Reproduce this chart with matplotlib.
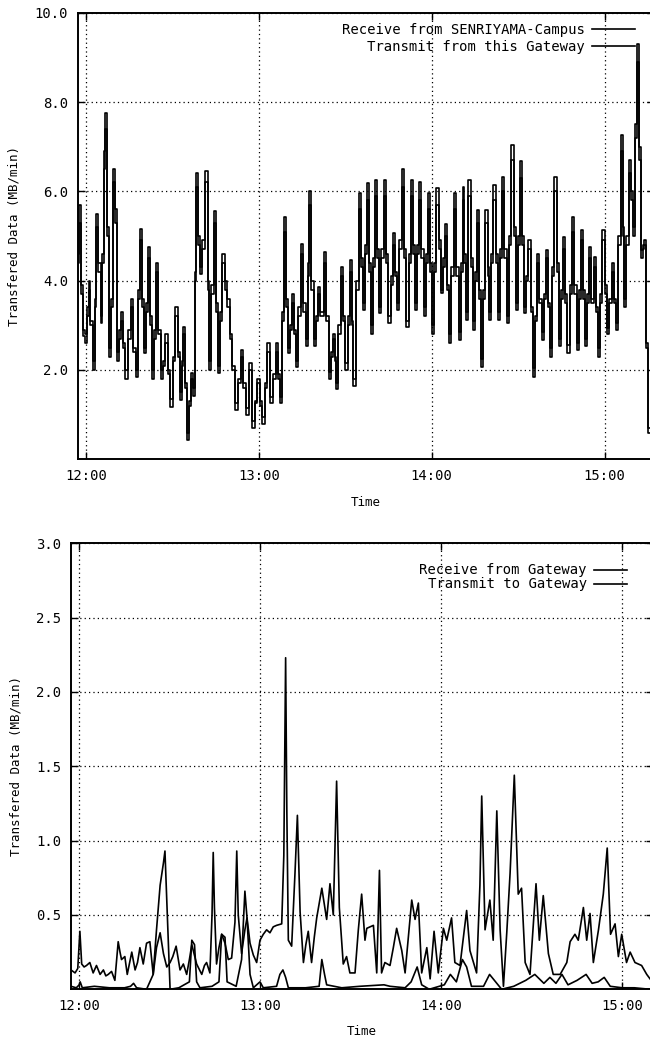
import matplotlib
matplotlib.use("Agg")
import matplotlib.pyplot as plt

# time axis in minutes after 12:00
tick_pos = [0, 60, 120, 180]
tick_lab = ["12:00", "13:00", "14:00", "15:00"]

# ---- upper panel: gateway traffic (MB/min) ----
t_top = [-2.9, -2.3, -1.5, -0.9, 0.0, 0.6, 1.2, 1.9, 2.6, 3.3,
         3.9, 4.7, 5.4, 6.0, 6.6, 6.9, 7.6, 8.3, 9.1, 9.8,
         10.5, 11.2, 11.8, 12.4, 13.2, 14.1, 15.0, 15.9, 16.8, 17.6,
         18.3, 19.0, 19.8, 20.5, 21.2, 22.0, 22.7, 23.4, 24.1, 24.8,
         25.5, 26.3, 27.1, 28.0, 28.9, 29.7, 30.6, 31.5, 32.2, 32.9,
         33.5, 34.0, 34.8, 35.5, 36.1, 36.7, 37.5, 38.0, 38.4, 39.1,
         39.8, 40.8, 41.9, 42.5, 43.1, 44.0, 44.8, 45.4, 46.0, 46.9,
         47.7, 48.6, 49.4, 50.3, 51.2, 52.3, 53.2, 54.1, 55.0, 55.8,
         57.0, 58.1, 59.0, 59.9, 60.8, 61.6, 62.5, 63.3, 64.5, 65.4,
         66.2, 67.0, 67.7, 68.4, 69.1, 69.7, 70.3, 71.0, 71.8, 72.5,
         73.2, 74.0, 74.9, 75.8, 76.6, 77.2, 77.8, 78.6, 79.5, 80.1,
         80.7, 81.9, 83.0, 83.9, 84.7, 85.4, 86.0, 86.6, 87.2, 88.0,
         88.8, 89.6, 90.5, 91.2, 91.9, 92.5, 93.1, 94.1, 95.1, 95.7,
         96.3, 97.1, 97.8, 98.5, 99.2, 99.9, 100.7, 101.4, 102.1, 102.9,
         103.8, 104.5, 105.3, 106.1, 106.9, 107.6, 108.4, 109.2, 110.0, 110.8,
         111.6, 112.3, 113.1, 113.8, 114.6, 115.3, 116.0, 116.8, 117.7, 118.4,
         119.1, 119.8, 120.6, 121.3, 122.0, 122.8, 123.5, 124.2, 124.9, 125.6,
         126.4, 127.2, 128.1, 129.0, 129.9, 130.4, 131.0, 131.6, 132.2, 133.1,
         133.9, 134.7, 135.3, 135.9, 136.6, 137.4, 138.2, 139.1, 139.7, 140.3,
         141.0, 141.8, 142.6, 143.5, 144.2, 144.9, 145.6, 146.4, 147.2, 148.1,
         148.8, 149.5, 150.2, 151.0, 151.7, 152.4, 153.1, 153.9, 154.7, 155.5,
         156.2, 157.0, 157.7, 158.5, 159.3, 160.2, 160.7, 161.3, 162.1, 163.0,
         163.8, 164.6, 165.3, 166.0, 166.7, 167.4, 168.3, 169.2, 169.9, 170.6,
         171.3, 172.1, 172.8, 173.6, 174.3, 175.0, 175.8, 176.7, 177.4, 178.2,
         178.9, 179.6, 180.4, 181.3, 182.0, 182.8, 183.5, 184.2, 185.1, 186.0,
         186.5, 187.1, 188.0, 188.9, 189.5, 190.2, 190.9, 191.7, 192.3, 192.9,
         193.5, 194.1, 194.8, 195.6, 196.3]

rx_campus = [4.6, 5.7, 3.9, 2.75, 2.6, 3.4, 4.0, 3.0, 2.0, 3.6,
             5.5, 4.4, 3.05, 4.6, 6.9, 7.75, 5.2, 2.3, 3.6, 6.5,
             5.6, 2.2, 2.9, 3.3, 2.5, 1.8, 2.9, 3.6, 2.4, 1.85,
             3.8, 5.15, 3.6, 2.38, 3.5, 4.76, 3.2, 1.8, 2.9, 4.4,
             2.9, 1.8, 2.2, 2.8, 1.9, 1.18, 2.3, 3.42, 2.4, 1.33,
             2.2, 2.97, 1.6, 0.43, 1.2, 1.93, 1.42, 4.2, 6.4, 5.0,
             4.16, 4.9, 6.45, 4.0, 2.0, 3.9, 5.55, 3.5, 1.93, 3.3,
             4.6, 4.0, 3.6, 2.8, 2.0, 1.1, 1.8, 2.45, 1.6, 1.0,
             2.15, 0.7, 1.3, 1.8, 1.2, 0.8, 1.7, 2.6, 1.25, 1.9,
             2.6, 1.8, 1.25, 3.3, 5.43, 3.6, 2.38, 3.0, 3.7, 2.8,
             2.07, 3.4, 4.83, 3.5, 2.53, 4.4, 6.0, 4.0, 2.53, 3.2,
             3.85, 3.2, 4.65, 3.2, 1.8, 2.4, 2.8, 2.2, 1.57, 3.0,
             4.31, 3.1, 2.0, 3.2, 4.46, 3.0, 1.64, 4.0, 5.96, 4.5,
             3.35, 4.8, 6.18, 4.4, 2.8, 4.5, 6.25, 4.7, 3.27, 4.7,
             6.25, 4.6, 3.05, 4.1, 5.06, 4.2, 3.35, 4.9, 6.5, 4.7,
             2.97, 4.6, 6.25, 4.8, 3.35, 4.8, 6.2, 4.7, 3.2, 4.6,
             5.96, 4.4, 2.8, 4.4, 6.07, 4.9, 3.72, 4.5, 5.28, 3.9,
             2.6, 4.3, 5.96, 4.3, 2.67, 4.4, 6.1, 4.6, 3.12, 6.25,
             4.5, 2.9, 4.2, 5.58, 3.8, 2.07, 3.8, 5.58, 4.3, 3.12,
             4.6, 6.14, 4.6, 3.12, 4.7, 6.33, 4.7, 3.05, 5.0, 7.04,
             5.2, 3.35, 5.0, 6.67, 5.0, 3.27, 4.1, 4.91, 3.4, 1.85,
             3.2, 4.6, 3.6, 2.67, 3.7, 4.68, 3.5, 2.3, 4.3, 6.33,
             4.4, 2.53, 3.8, 4.98, 3.7, 2.38, 3.9, 5.43, 3.9, 2.45,
             3.8, 5.13, 3.8, 2.53, 3.7, 4.76, 3.6, 4.53, 3.4, 2.3,
             3.7, 5.13, 3.9, 2.8, 3.6, 4.39, 3.6, 2.9, 5.0, 7.26,
             5.2, 3.42, 5.0, 6.7, 6.0, 5.2, 7.5, 9.3, 7.0, 4.68,
             4.8, 4.9, 2.5, 0.58, 0.5]

tx_gateway = [4.4, 5.3, 3.7, 2.9, 2.8, 3.2, 3.8, 3.1, 2.2, 3.4,
              5.2, 4.2, 3.2, 4.4, 6.5, 7.4, 5.0, 2.5, 3.4, 6.2,
              5.3, 2.4, 2.7, 3.1, 2.6, 2.0, 2.7, 3.4, 2.5, 2.0,
              3.6, 4.9, 3.4, 2.5, 3.3, 4.5, 3.0, 2.0, 2.7, 4.2,
              2.8, 2.0, 2.1, 2.6, 2.0, 1.35, 2.2, 3.2, 2.3, 1.5,
              2.1, 2.8, 1.7, 0.6, 1.3, 1.8, 1.6, 4.0, 6.1, 4.8,
              4.3, 4.7, 6.2, 3.8, 2.2, 3.7, 5.3, 3.3, 2.1, 3.1,
              4.4, 3.8, 3.4, 2.7, 2.1, 1.25, 1.7, 2.3, 1.7, 1.15,
              2.0, 0.85, 1.25, 1.7, 1.3, 0.95, 1.6, 2.4, 1.4, 1.8,
              2.4, 1.9, 1.4, 3.1, 5.1, 3.4, 2.5, 2.9, 3.5, 2.9,
              2.2, 3.2, 4.6, 3.3, 2.7, 4.1, 5.7, 3.8, 2.7, 3.1,
              3.7, 3.3, 4.4, 3.1, 1.95, 2.3, 2.7, 2.3, 1.7, 2.8,
              4.1, 3.2, 2.15, 3.0, 4.2, 3.1, 1.8, 3.8, 5.6, 4.3,
              3.5, 4.6, 5.8, 4.2, 3.0, 4.3, 5.9, 4.5, 3.4, 4.5,
              5.9, 4.4, 3.2, 3.9, 4.8, 4.1, 3.5, 4.7, 6.1, 4.5,
              3.1, 4.4, 5.9, 4.6, 3.5, 4.6, 5.8, 4.5, 3.4, 4.4,
              5.6, 4.2, 3.0, 4.2, 5.7, 4.7, 3.8, 4.3, 5.0, 3.8,
              2.8, 4.1, 5.6, 4.1, 2.85, 4.2, 5.8, 4.4, 3.3, 5.9,
              4.3, 3.1, 4.0, 5.3, 3.6, 2.25, 3.6, 5.3, 4.1, 3.3,
              4.4, 5.8, 4.4, 3.3, 4.5, 6.0, 4.5, 3.2, 4.8, 6.7,
              5.0, 3.5, 4.8, 6.3, 4.8, 3.4, 4.0, 4.7, 3.3, 2.05,
              3.1, 4.4, 3.5, 2.85, 3.6, 4.5, 3.4, 2.5, 4.1, 6.0,
              4.2, 2.7, 3.6, 4.7, 3.5, 2.55, 3.7, 5.1, 3.7, 2.6,
              3.6, 4.9, 3.6, 2.7, 3.5, 4.5, 3.5, 4.3, 3.3, 2.5,
              3.5, 4.9, 3.7, 2.95, 3.5, 4.2, 3.5, 3.05, 4.8, 6.9,
              5.0, 3.6, 4.8, 6.4, 5.8, 5.0, 7.2, 8.9, 6.7, 4.5,
              4.7, 4.8, 2.6, 0.7, 0.6]

# ---- lower panel: campus side (MB/min) ----
t_rx = [-2.75, -1.4, -0.5, 0.2, 0.8, 1.6, 2.4, 3.5, 4.6, 5.7,
        6.9, 8.0, 8.8, 9.6, 10.7, 11.8, 12.9, 13.5, 14.0, 15.1,
        15.9, 17.4, 18.5, 19.3, 20.1, 21.2, 22.3, 23.4, 24.5, 25.6,
        26.8, 27.9, 29.0, 30.1, 31.0, 32.1, 33.4, 34.5, 35.6, 36.5,
        37.3, 38.9, 40.6, 41.5, 42.2, 43.3, 44.0, 44.4, 44.8, 45.5,
        46.3, 47.2, 48.3, 49.4, 50.5, 51.6, 52.2, 52.7, 53.8, 54.9,
        55.6, 56.6, 57.7, 58.8, 59.9, 61.0, 62.1, 63.2, 64.3, 65.4,
        67.1, 67.8, 68.4, 68.8, 69.3, 70.4, 71.5, 72.3, 73.2, 74.3,
        75.1, 75.9, 77.0, 77.9, 78.7, 80.4, 82.0, 83.1, 84.2, 85.3,
        86.2, 87.5, 88.6, 89.7, 91.4, 92.5, 93.6, 94.7, 95.3, 97.5,
        98.6, 99.5, 100.2, 101.3, 103.0, 104.1, 105.2, 106.9, 108.0, 110.2,
        111.3, 112.4, 113.5, 115.2, 116.3, 117.6, 119.0, 120.7, 121.8, 123.4,
        124.5, 126.2, 128.4, 129.5, 131.7, 132.8, 133.4, 134.5, 136.1, 137.2,
        138.4, 139.5, 140.6, 141.7, 142.8, 144.2, 145.5, 146.6, 147.8, 149.4,
        151.4, 152.5, 153.8, 155.5, 157.1, 159.4, 161.6, 162.7, 164.3, 165.4,
        167.1, 168.2, 169.3, 170.4, 172.1, 173.7, 175.0, 176.1, 177.6, 178.7,
        179.8, 181.4, 182.6, 184.2, 186.4, 188.1, 189.2]
rx_from_gw = [0.13, 0.11, 0.14, 0.39, 0.17, 0.15, 0.16, 0.18, 0.11, 0.16,
              0.10, 0.13, 0.09, 0.10, 0.12, 0.06, 0.32, 0.25, 0.20, 0.22,
              0.10, 0.25, 0.13, 0.18, 0.28, 0.17, 0.31, 0.32, 0.10, 0.28,
              0.38, 0.24, 0.15, 0.18, 0.22, 0.29, 0.13, 0.17, 0.10, 0.20,
              0.30, 0.17, 0.10, 0.16, 0.18, 0.11, 0.50, 0.92, 0.55, 0.17,
              0.28, 0.37, 0.31, 0.20, 0.21, 0.45, 0.93, 0.50, 0.24, 0.40,
              0.48, 0.31, 0.23, 0.18, 0.33, 0.37, 0.40, 0.38, 0.42, 0.43,
              0.44, 0.90, 2.23, 1.20, 0.33, 0.29, 0.78, 1.17, 0.52, 0.18,
              0.30, 0.39, 0.18, 0.35, 0.48, 0.68, 0.47, 0.71, 0.50, 1.40,
              0.55, 0.17, 0.22, 0.11, 0.11, 0.40, 0.64, 0.33, 0.41, 0.43,
              0.11, 0.80, 0.11, 0.18, 0.16, 0.28, 0.41, 0.26, 0.11, 0.60,
              0.47, 0.58, 0.11, 0.28, 0.07, 0.39, 0.11, 0.41, 0.33, 0.48,
              0.18, 0.16, 0.53, 0.26, 0.11, 0.70, 1.30, 0.40, 0.60, 0.33,
              1.20, 0.40, 0.02, 0.38, 0.78, 1.44, 0.64, 0.68, 0.18, 0.10,
              0.71, 0.33, 0.63, 0.24, 0.10, 0.10, 0.18, 0.32, 0.37, 0.33,
              0.55, 0.33, 0.51, 0.18, 0.40, 0.64, 0.95, 0.37, 0.44, 0.22,
              0.37, 0.18, 0.25, 0.18, 0.16, 0.10, 0.07]

t_tx = [-2.75, -1.0, 0.0, 0.3, 1.0, 5.0, 10.0, 15.0, 17.0, 18.0,
        19.0, 22.3, 23.4, 24.5, 25.6, 26.8, 27.9, 28.4, 29.0, 30.1,
        33.0, 36.5, 37.3, 38.2, 38.9, 40.0, 44.0, 46.3, 47.2, 48.3,
        49.0, 52.0, 53.8, 54.9, 55.6, 56.6, 57.7, 59.9, 61.0, 65.4,
        66.5, 67.5, 68.4, 69.3, 75.0, 79.5, 80.4, 81.3, 82.0, 87.0,
        93.0, 101.0, 103.0, 108.0, 110.0, 112.0, 113.5, 116.0, 121.0, 123.0,
        125.0, 127.0, 128.4, 130.0, 134.0, 136.0, 138.0, 140.0, 144.0, 148.0,
        151.0, 154.0, 156.0, 158.0, 160.0, 162.0, 165.0, 168.0, 170.0, 172.0,
        174.0, 176.0, 180.0, 184.0, 189.2]
tx_to_gw = [0.02, 0.01, 0.03, 0.05, 0.01, 0.02, 0.01, 0.01, 0.02, 0.04,
            0.01, 0.0, 0.05, 0.10, 0.40, 0.70, 0.85, 0.93, 0.60, 0.0,
            0.01, 0.05, 0.33, 0.30, 0.05, 0.01, 0.02, 0.05, 0.37, 0.35,
            0.05, 0.02, 0.20, 0.66, 0.48, 0.10, 0.01, 0.05, 0.01, 0.02,
            0.10, 0.13, 0.08, 0.01, 0.01, 0.02, 0.20, 0.10, 0.03, 0.01,
            0.02, 0.03, 0.02, 0.01, 0.05, 0.15, 0.03, 0.0, 0.03, 0.10,
            0.05, 0.20, 0.15, 0.02, 0.02, 0.10, 0.05, 0.0, 0.02, 0.06,
            0.10, 0.04, 0.08, 0.04, 0.10, 0.03, 0.06, 0.10, 0.04, 0.05,
            0.08, 0.02, 0.01, 0.01, 0.0]

plt.rcParams['font.family'] = ['DejaVu Sans Mono']
plt.rcParams['font.size'] = 10

fig = plt.figure(figsize=(6.5, 10.42), dpi=100)
ax1 = fig.add_axes([0.1195, 0.5592, 0.886, 0.4286])
ax2 = fig.add_axes([0.1092, 0.0506, 0.896, 0.428])


def style(ax, yticks, ymax, xmin, xmax):
    ax.set_xlim(xmin, xmax)
    ax.set_ylim(0, ymax)
    ax.set_xticks(tick_pos)
    ax.set_xticklabels(tick_lab)
    ax.set_yticks(yticks)
    ax.yaxis.set_major_formatter(matplotlib.ticker.FormatStrFormatter('%.1f'))
    ax.grid(True, color='black', linestyle=(0, (1, 2.5)), linewidth=0.9)
    ax.tick_params(direction='in', top=True, right=True, length=5,
                   width=1, pad=7, labelsize=10)
    for s in ax.spines.values():
        s.set_linewidth(1.4)
    ax.set_xlabel('Time', fontsize=9, labelpad=9)
    ax.set_ylabel('Transfered Data (MB/min)', fontsize=9, labelpad=10)


ax1.step(t_top, rx_campus, where='mid', color='black', lw=1.2,
         label='Receive from SENRIYAMA-Campus')
ax1.step(t_top, tx_gateway, where='mid', color='black', lw=1.2,
         label='Transmit from this Gateway')
style(ax1, [2, 4, 6, 8, 10], 10, -2.9, 197.0)
ax1.legend(loc='upper right', bbox_to_anchor=(0.968, 0.977), frameon=False,
           markerfirst=False, handlelength=3.1, handletextpad=0.5,
           labelspacing=0.2, borderpad=0, borderaxespad=0, fontsize=10)

ax2.plot(t_rx, rx_from_gw, color='black', lw=1.2, label='Receive from Gateway')
ax2.plot(t_tx, tx_to_gw, color='black', lw=1.2, label='Transmit to Gateway')
style(ax2, [0.5, 1.0, 1.5, 2.0, 2.5, 3.0], 3, -2.75, 190.3)
ax2.legend(loc='upper right', bbox_to_anchor=(0.955, 0.955), frameon=False,
           markerfirst=False, handlelength=2.4, handletextpad=0.5,
           labelspacing=0.0, borderpad=0, borderaxespad=0, fontsize=10)

fig.savefig('out.png', dpi=100)
